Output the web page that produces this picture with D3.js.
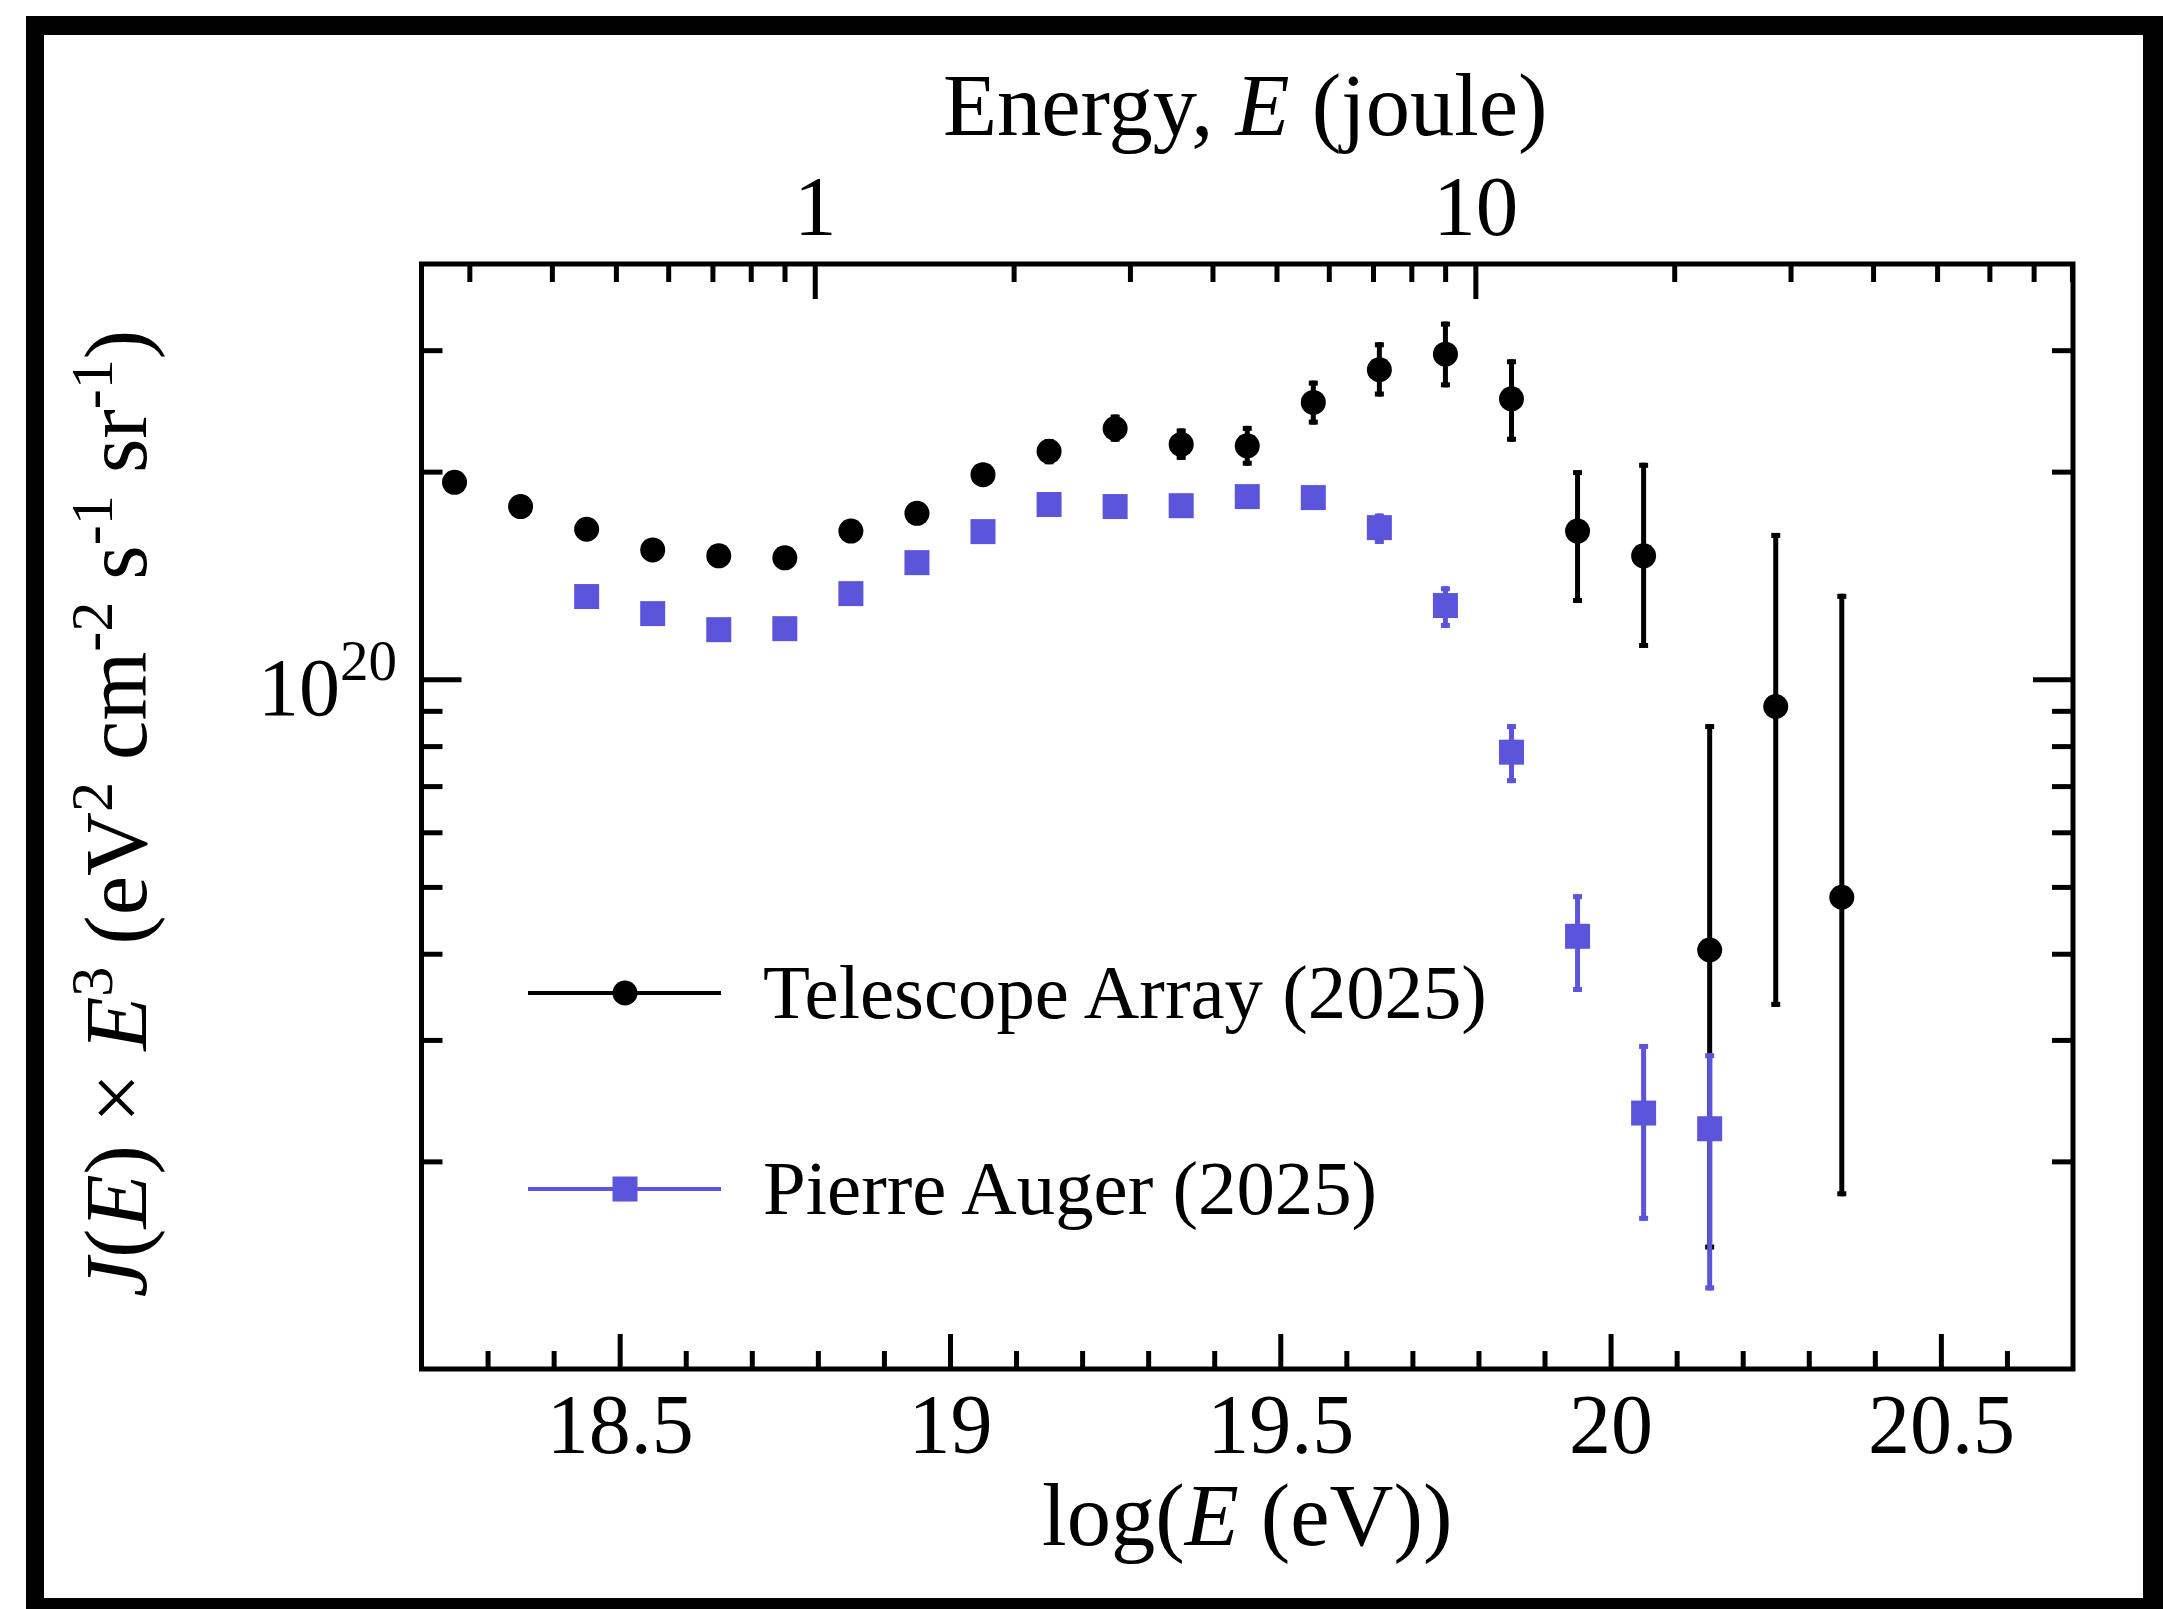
<!DOCTYPE html>
<html>
<head>
<meta charset="utf-8">
<script src="https://cdn.jsdelivr.net/npm/d3@7"></script>
<style>
  html, body { margin: 0; padding: 0; background: #fff; }
  svg { display: block; }
  text { font-family: "Liberation Serif", "Times New Roman", serif; fill: #000; }
</style>
</head>
<body>
<svg id="chart" width="2163" height="1609"></svg>
<script>
// ---------------- data ----------------
const taLogE = [18.25, 18.35, 18.45, 18.55, 18.65, 18.75, 18.85, 18.95, 19.05, 19.15, 19.25,
                19.35, 19.45, 19.55, 19.65, 19.75, 19.85, 19.95, 20.05, 20.15, 20.25, 20.35];
const taFlux = [1.93e20, 1.78e20, 1.65e20, 1.54e20, 1.51e20, 1.50e20, 1.64e20, 1.74e20, 1.98e20, 2.14e20, 2.31e20,
                2.19e20, 2.18e20, 2.52e20, 2.81e20, 2.96e20, 2.55e20, 1.64e20, 1.51e20, 0.405e20, 0.913e20, 0.483e20];
const taLow  = [1.91e20, 1.76e20, 1.63e20, 1.52e20, 1.49e20, 1.48e20, 1.62e20, 1.71e20, 1.94e20, 2.05e20, 2.21e20,
                2.08e20, 2.04e20, 2.34e20, 2.57e20, 2.65e20, 2.21e20, 1.29e20, 1.11e20, 0.149e20, 0.335e20, 0.178e20];
const taHigh = [1.95e20, 1.80e20, 1.67e20, 1.56e20, 1.53e20, 1.52e20, 1.66e20, 1.77e20, 2.02e20, 2.23e20, 2.42e20,
                2.31e20, 2.33e20, 2.71e20, 3.08e20, 3.30e20, 2.91e20, 2.01e20, 2.06e20, 0.861e20, 1.63e20, 1.33e20];

const paLogE = [18.45, 18.55, 18.65, 18.75, 18.85, 18.95, 19.05, 19.15, 19.25, 19.35, 19.45,
                19.55, 19.65, 19.75, 19.85, 19.95, 20.05, 20.15];
const paFlux = [1.318e20, 1.245e20, 1.180e20, 1.184e20, 1.331e20, 1.476e20, 1.637e20, 1.792e20, 1.780e20, 1.785e20, 1.840e20,
                1.834e20, 1.659e20, 1.279e20, 0.784e20, 0.424e20, 0.235e20, 0.223e20];
const paLow  = [1.31e20, 1.24e20, 1.175e20, 1.18e20, 1.325e20, 1.47e20, 1.63e20, 1.785e20, 1.77e20, 1.775e20, 1.83e20,
                1.80e20, 1.571e20, 1.187e20, 0.707e20, 0.352e20, 0.164e20, 0.130e20];
const paHigh = [1.326e20, 1.25e20, 1.185e20, 1.19e20, 1.337e20, 1.482e20, 1.644e20, 1.80e20, 1.79e20, 1.795e20, 1.85e20,
                1.87e20, 1.739e20, 1.364e20, 0.861e20, 0.488e20, 0.296e20, 0.287e20];

const seriesNames = ["Telescope Array (2025)", "Pierre Auger (2025)"];
const xTickMajor = [18.5, 19, 19.5, 20, 20.5];
const xTickLabels = ["18.5", "19", "19.5", "20", "20.5"];
const jouleMajor = [1, 10];
const jouleLabels = ["1", "10"];

// ---------------- layout ----------------
const W = 2163, H = 1609;
const L = 421.5, R = 2073, T = 264, B = 1369;
const EV_TO_J = 1.602176634e-19;
const BLACK = "#000", BLUE = "#5b55db";

const svg = d3.select("#chart");
svg.append("rect").attr("width", W).attr("height", H).attr("fill", "#fff");
// outer frame
svg.append("rect").attr("x", 26).attr("y", 16).attr("width", W - 26).attr("height", H - 16).attr("fill", "#000");
svg.append("rect").attr("x", 44).attr("y", 35).attr("width", 2143 - 44).attr("height", 1598 - 35).attr("fill", "#fff");

const x = d3.scaleLinear().domain([18.2, 20.7]).range([L, R]);
const y = d3.scaleLog().domain([1e19, 4e20]).range([B, T]);
const xJ = d3.scaleLog().domain([Math.pow(10, 18.2) * EV_TO_J, Math.pow(10, 20.7) * EV_TO_J]).range([L, R]);

const xMinor = d3.range(18.3, 20.69, 0.1).map(v => +v.toFixed(1)).filter(v => !xTickMajor.some(m => Math.abs(m - v) < 1e-6));
const jMinor = [0.3,0.4,0.5,0.6,0.7,0.8,0.9,2,3,4,5,6,7,8,9,20,30,40,50,60,70,80];
const yMinor = [2e19,3e19,4e19,5e19,6e19,7e19,8e19,9e19,2e20,3e20];
const yMajor = [1e20];

const AX_W = 5;
const MAJ = 35, MIN = 18, YMAJ = 40, YMIN = 21;

function styleAxis(g) {
  g.select(".domain").remove();
  g.selectAll(".tick line").attr("stroke", "#000").attr("stroke-width", AX_W);
  g.selectAll(".tick text").attr("fill", "#000").style("font-family", '"Liberation Serif", serif');
}

// bottom axis
svg.append("g").attr("transform", `translate(0,${B})`)
  .call(d3.axisBottom(x).tickValues(xMinor).tickSizeInner(-MIN).tickSizeOuter(0).tickFormat(""))
  .call(styleAxis);
svg.append("g").attr("transform", `translate(0,${B})`)
  .call(d3.axisBottom(x).tickValues(xTickMajor).tickSizeInner(-MAJ).tickSizeOuter(0).tickPadding(82)
    .tickFormat((d, i) => xTickLabels[i]))
  .call(styleAxis)
  .call(g => g.selectAll(".tick text").attr("font-size", 84).attr("dy", 0).attr("y", 84));

// top axis (joule)
svg.append("g").attr("transform", `translate(0,${T})`)
  .call(d3.axisTop(xJ).tickValues(jMinor).tickSizeInner(-MIN).tickSizeOuter(0).tickFormat(""))
  .call(styleAxis);
svg.append("g").attr("transform", `translate(0,${T})`)
  .call(d3.axisTop(xJ).tickValues(jouleMajor).tickSizeInner(-MAJ).tickSizeOuter(0)
    .tickFormat((d, i) => jouleLabels[i]))
  .call(styleAxis)
  .call(g => g.selectAll(".tick text").attr("font-size", 85).attr("dy", 0).attr("y", -29));

// left / right axes
svg.append("g").attr("transform", `translate(${L},0)`)
  .call(d3.axisLeft(y).tickValues(yMinor).tickSizeInner(-YMIN).tickSizeOuter(0).tickFormat(""))
  .call(styleAxis);
svg.append("g").attr("transform", `translate(${L},0)`)
  .call(d3.axisLeft(y).tickValues(yMajor).tickSizeInner(-YMAJ).tickSizeOuter(0).tickFormat(""))
  .call(styleAxis);
svg.append("g").attr("transform", `translate(${R},0)`)
  .call(d3.axisRight(y).tickValues(yMinor).tickSizeInner(-YMIN).tickSizeOuter(0).tickFormat(""))
  .call(styleAxis);
svg.append("g").attr("transform", `translate(${R},0)`)
  .call(d3.axisRight(y).tickValues(yMajor).tickSizeInner(-YMAJ).tickSizeOuter(0).tickFormat(""))
  .call(styleAxis);

// 10^20 label
const yl = svg.append("text").attr("x", 397).attr("y", y(1e20) + 36).attr("text-anchor", "end").attr("font-size", 82);
yl.append("tspan").text("10");
yl.append("tspan").attr("dy", -35).attr("font-size", 57).text("20");

// plot frame
svg.append("rect").attr("x", L).attr("y", T).attr("width", R - L).attr("height", B - T)
  .attr("fill", "none").attr("stroke", "#000").attr("stroke-width", AX_W);

// ---------------- data marks ----------------
const CAP = 4.5, EB_W = 5;
function errorBars(xs, lo, hi, color) {
  const g = svg.append("g");
  g.selectAll("line.eb").data(xs).join("line")
    .attr("x1", d => x(d)).attr("x2", d => x(d))
    .attr("y1", (d, i) => y(lo[i])).attr("y2", (d, i) => y(hi[i]))
    .attr("stroke", color).attr("stroke-width", EB_W);
  g.selectAll("line.caplo").data(xs).join("line")
    .attr("x1", d => x(d) - CAP).attr("x2", d => x(d) + CAP)
    .attr("y1", (d, i) => y(lo[i]) - 2.5).attr("y2", (d, i) => y(lo[i]) - 2.5)
    .attr("stroke", color).attr("stroke-width", 5);
  g.selectAll("line.caphi").data(xs).join("line").attr("class", "caphi")
    .attr("x1", d => x(d) - CAP).attr("x2", d => x(d) + CAP)
    .attr("y1", (d, i) => y(hi[i]) + 2.5).attr("y2", (d, i) => y(hi[i]) + 2.5)
    .attr("stroke", color).attr("stroke-width", 5);
}

errorBars(taLogE, taLow, taHigh, BLACK);
svg.append("g").selectAll("circle").data(taLogE).join("circle")
  .attr("cx", d => x(d)).attr("cy", (d, i) => y(taFlux[i])).attr("r", 12.5).attr("fill", BLACK);

errorBars(paLogE, paLow, paHigh, BLUE);
const SQ = 25;
svg.append("g").selectAll("rect").data(paLogE).join("rect")
  .attr("x", d => x(d) - SQ / 2).attr("y", (d, i) => y(paFlux[i]) - SQ / 2)
  .attr("width", SQ).attr("height", SQ).attr("fill", BLUE);

// ---------------- legend ----------------
const legY = [993, 1189];
const legColors = [BLACK, BLUE];
legY.forEach((ly, i) => {
  svg.append("line").attr("x1", 528).attr("x2", 721).attr("y1", ly).attr("y2", ly)
    .attr("stroke", legColors[i]).attr("stroke-width", 4);
  if (i === 0) {
    svg.append("circle").attr("cx", 625).attr("cy", ly).attr("r", 12.5).attr("fill", BLACK);
  } else {
    svg.append("rect").attr("x", 625 - SQ / 2).attr("y", ly - SQ / 2).attr("width", SQ).attr("height", SQ).attr("fill", BLUE);
  }
  svg.append("text").attr("x", 763).attr("y", ly + 25).attr("font-size", 76.8).text(seriesNames[i]);
});

// ---------------- axis titles ----------------
const tt = svg.append("text").attr("x", (L + R) / 2 - 2).attr("y", 135).attr("text-anchor", "middle").attr("font-size", 88.5);
tt.append("tspan").text("Energy, ");
tt.append("tspan").attr("font-style", "italic").text("E");
tt.append("tspan").text(" (joule)");

const bt = svg.append("text").attr("x", (L + R) / 2).attr("y", 1545).attr("text-anchor", "middle").attr("font-size", 88.5);
bt.append("tspan").text("log(");
bt.append("tspan").attr("font-style", "italic").text("E");
bt.append("tspan").text(" (eV))");

const ylab = svg.append("text").attr("transform", `translate(146, ${(T + B) / 2 - 3}) rotate(-90)`)
  .attr("text-anchor", "middle").attr("font-size", 88.5);
const parts = [
  ["J", "i"], ["(", ""], ["E", "i"], [") \u00d7 ", ""], ["E", "i"], ["3", "s"],
  [" (eV", ""], ["2", "s"], [" cm", ""], ["-2", "s"], [" s", ""], ["-1", "s"], [" sr", ""], ["-1", "s"], [")", ""]
];
let wasSup = false;
parts.forEach(([t, k]) => {
  const ts = ylab.append("tspan").text(t);
  if (k === "i") ts.attr("font-style", "italic");
  if (k === "s") { ts.attr("font-size", 60).attr("dy", -34); wasSup = true; }
  else if (wasSup) { ts.attr("dy", 34); wasSup = false; }
});
</script>
</body>
</html>
